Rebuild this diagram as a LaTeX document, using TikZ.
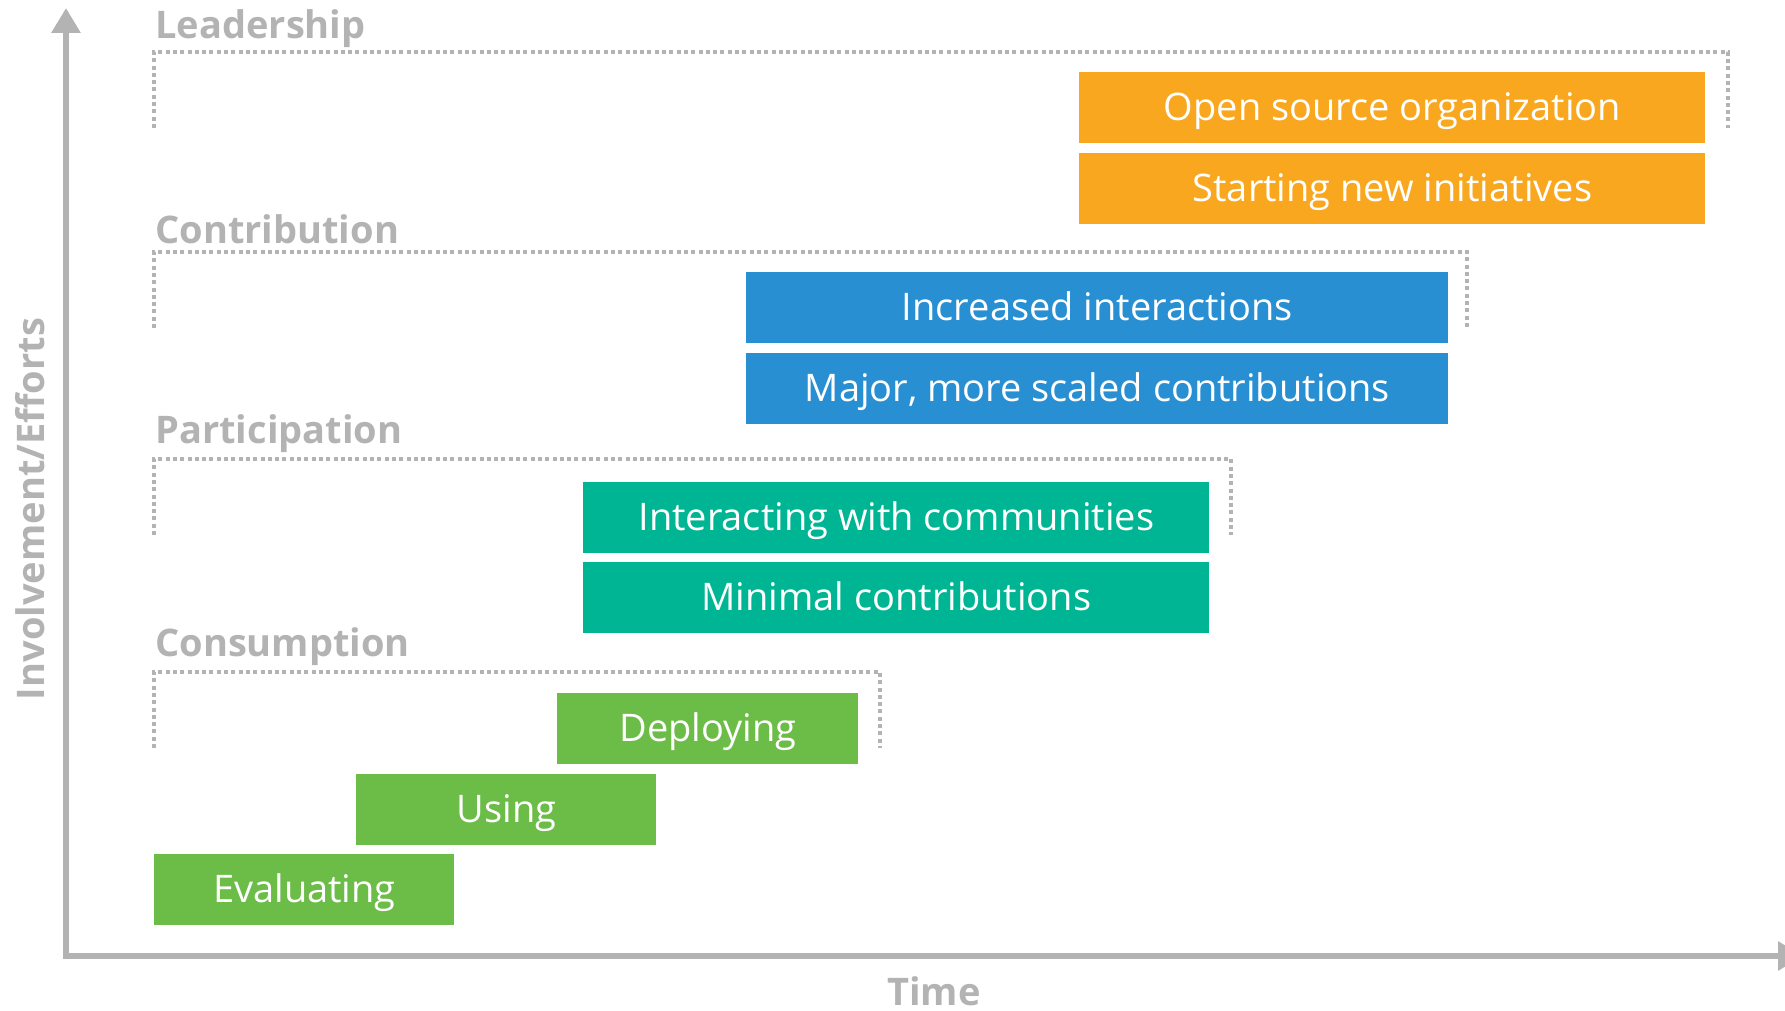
\documentclass[tikz,border=0pt]{standalone}
\usepackage{fontspec}
\setmainfont{Open Sans}
\usetikzlibrary{arrows.meta}

\definecolor{axisgray}{RGB}{179,179,179}
\definecolor{leadorange}{RGB}{248,167,30}
\definecolor{contribblue}{RGB}{40,143,211}
\definecolor{partteal}{RGB}{0,181,147}
\definecolor{consgreen}{RGB}{108,188,72}

\begin{document}
\begin{tikzpicture}
    [x=0.5pt,y=-0.5pt,
     stage/.style={draw=axisgray,line width=2pt,dash pattern=on 2pt off 1.65pt},
     stagelabel/.style={anchor=base west,inner sep=0pt,text=axisgray,
       font=\bfseries\fontsize{19}{22}\selectfont},
     axislabel/.style={inner sep=0pt,text=axisgray,font=\bfseries\fontsize{19}{22}\selectfont},
     activity/.style={anchor=north west,fill=#1,text=white,inner sep=0pt,
       minimum height=35.5pt,text height=17pt,text depth=4pt,
       font=\fontsize{19}{22}\selectfont},
     axis/.style={draw=axisgray,line width=3pt,line join=miter,
       {Triangle[length=12.5pt,width=14pt]}-{Triangle[length=12.5pt,width=14pt]}}]
    \useasboundingbox (0,0) rectangle (1785,1011);
    % axes
    \coordinate (origin) at (66,956);
    \coordinate (ytip) at (66,8);
    \coordinate (xtip) at (1803,956);
    \draw[axis] (ytip) -- (origin) -- (xtip);
    \node[axislabel,rotate=90,anchor=base] (ylabel) at (45,509) {Involvement/Efforts};
    \node[axislabel,anchor=base] (xlabel) at (934,1005) {Time};
    % stages
    \foreach \stagename/\top/\right/\base in
      {Leadership/52/1728/39,Contribution/252/1467/243,
       Participation/459/1231/443,Consumption/672/880/656}
    {
      \draw[stage] (154,\top+76) -- (154,\top) -- (\right,\top) -- (\right,\top+76);
      \node[stagelabel] (label-\stagename) at (155,\base) {\stagename};
    }
    % activities
    \node[activity=leadorange,minimum width=313pt] (org) at (1079,72) {Open source organization};
    \node[activity=leadorange,minimum width=313pt] (initiatives) at (1079,153) {Starting new initiatives};
    \node[activity=contribblue,minimum width=351pt] (interactions) at (746,272) {Increased interactions};
    \node[activity=contribblue,minimum width=351pt] (major) at (746,353) {Major, more scaled contributions};
    \node[activity=partteal,minimum width=313pt] (communities) at (583,482) {Interacting with communities};
    \node[activity=partteal,minimum width=313pt] (minimal) at (583,562) {Minimal contributions};
    \node[activity=consgreen,minimum width=150.5pt] (deploying) at (557,693) {Deploying};
    \node[activity=consgreen,minimum width=150pt] (using) at (356,774) {Using};
    \node[activity=consgreen,minimum width=150pt] (evaluating) at (154,854) {Evaluating};
\end{tikzpicture}
\end{document}
